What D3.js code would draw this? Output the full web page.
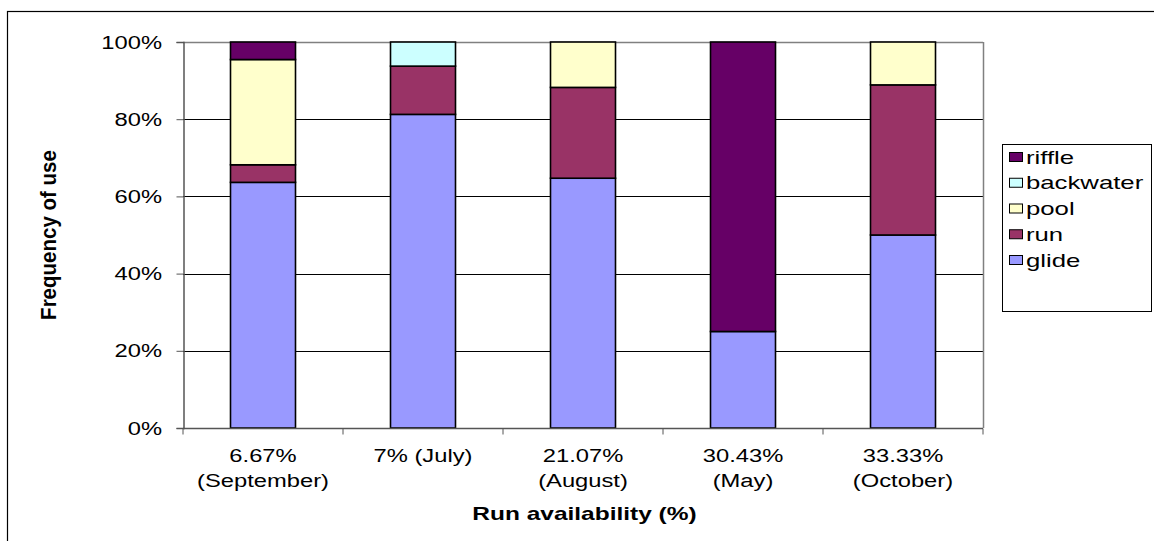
<!DOCTYPE html>
<html><head><meta charset="utf-8">
<script src="https://cdn.jsdelivr.net/npm/d3@7"></script>
<style>body{margin:0;background:#fff}svg{display:block}text{font-family:Arial,"Liberation Sans",sans-serif}</style>
</head><body><svg id="c" width="1154" height="541"></svg>
<script>
const categories = [["6.67%","(September)"],["7% (July)"],["21.07%","(August)"],["30.43%","(May)"],["33.33%","(October)"]];
const seriesNames = ["glide","run","pool","backwater","riffle"];
const glide     = [63.64, 81.25, 64.71, 25, 50];
const run       = [4.55, 12.5, 23.53, 0, 38.89];
const pool      = [27.27, 0, 11.76, 0, 11.11];
const backwater = [0, 6.25, 0, 0, 0];
const riffle    = [4.54, 0, 0, 75, 0];
const yTicks = [0,20,40,60,80,100];
const colors = {glide:"#9999FF", run:"#993366", pool:"#FFFFCC", backwater:"#CCFFFF", riffle:"#660066"};

const svg = d3.select("#c");
const L=183, R=983, T=42, B=428;
const SX = 1.32; // horizontal text stretch
const x = d3.scaleBand().domain(d3.range(categories.length)).range([L,R]);
const y = d3.scaleLinear().domain([0,100]).range([B,T]);

function stxt(parent, px, py, str, opts={}) {
  const g = parent.append("g").attr("transform", `translate(${px},${py}) scale(${opts.sx||SX},1)`);
  return g.append("text").attr("text-anchor", opts.anchor||"middle").attr("font-size", opts.size||18)
    .attr("font-weight", opts.weight||"normal").attr("fill","#000").text(str);
}

// outer border
svg.append("rect").attr("x",7.5).attr("y",11.5).attr("width",1160).attr("height",600).attr("fill","none").attr("stroke","#000").attr("stroke-width",1.2);

// gridlines
svg.append("g").selectAll("line").data(yTicks.filter(d=>d>0)).join("line")
  .attr("x1",L).attr("x2",R).attr("y1",d=>Math.round(y(d))+0.5).attr("y2",d=>Math.round(y(d))+0.5)
  .attr("stroke","#000").attr("stroke-width",1);
svg.append("line").attr("x1",R+0.5).attr("x2",R+0.5).attr("y1",T).attr("y2",B).attr("stroke","#808080").attr("stroke-width",1.5);
svg.append("line").attr("x1",L).attr("x2",R).attr("y1",T+0.5).attr("y2",T+0.5).attr("stroke","#808080").attr("stroke-width",1.5);

// stacked bars
const rows = categories.map((c,i)=>({i, glide:glide[i], run:run[i], pool:pool[i], backwater:backwater[i], riffle:riffle[i]}));
const stack = d3.stack().keys(seriesNames)(rows);
const bw = 65;
svg.append("g").selectAll("g").data(stack).join("g").attr("fill",d=>colors[d.key])
  .selectAll("rect").data(d=>d.filter(p=>p[1]-p[0]>0)).join("rect")
  .attr("x",d=>x(d.data.i)+x.bandwidth()/2-bw/2)
  .attr("width",bw)
  .attr("y",d=>y(d[1]))
  .attr("height",d=>y(d[0])-y(d[1]))
  .attr("stroke","#000").attr("stroke-width",1.6);

// y axis
const ya = svg.append("g").attr("transform",`translate(${L+0.5},0)`)
  .call(d3.axisLeft(y).tickValues(yTicks).tickFormat("").tickSize(7));
ya.select(".domain").attr("stroke","#555").attr("stroke-width",1.5);
ya.selectAll(".tick line").attr("stroke","#555");
const yl = svg.append("g");
yTicks.forEach(t => stxt(yl, 162, y(t)+6.5, t+"%", {anchor:"end"}));

// x axis
const xa = svg.append("g").attr("transform",`translate(0,${B+0.5})`);
xa.append("line").attr("x1",L).attr("x2",R).attr("stroke","#555").attr("stroke-width",1.5);
xa.selectAll("line.tk").data(d3.range(categories.length+1)).join("line").attr("class","tk")
  .attr("x1",d=>L+d*x.bandwidth()).attr("x2",d=>L+d*x.bandwidth()).attr("y1",0).attr("y2",6).attr("stroke","#555");
categories.forEach((c,i)=>{
  c.forEach((s,j)=> stxt(svg, x(i)+x.bandwidth()/2, 462+j*25, s));
});

// axis titles
stxt(svg, 584.5, 520, "Run availability (%)", {weight:"bold", size:18, sx:1.36});
svg.append("g").attr("transform","translate(56,235) rotate(-90) scale(1.14,1.25)")
  .append("text").attr("text-anchor","middle").attr("font-size",18).attr("font-weight","bold").text("Frequency of use");

// legend
const lg = svg.append("g");
lg.append("rect").attr("x",1002.5).attr("y",144.5).attr("width",149).attr("height",167).attr("fill","#fff").attr("stroke","#000").attr("stroke-width",1);
const legOrder = seriesNames.slice().reverse();
legOrder.forEach((k,i)=>{
  const cy = 157 + i*25.75;
  lg.append("rect").attr("x",1009.5).attr("y",cy-4.5).attr("width",13).attr("height",9).attr("fill",colors[k]).attr("stroke","#000").attr("stroke-width",1);
  stxt(lg, 1026, cy+6.5, k, {anchor:"start", sx:1.43});
});
</script></body></html>
